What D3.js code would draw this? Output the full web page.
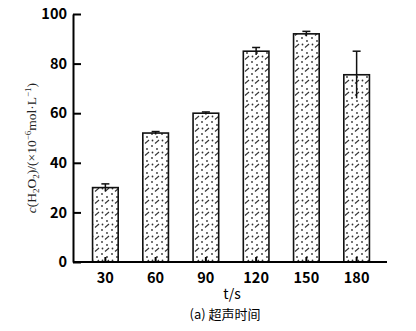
<!DOCTYPE html>
<html>
<head>
<meta charset="utf-8">
<script src="https://cdn.jsdelivr.net/npm/d3@7"></script>
<style>
  html, body { margin: 0; padding: 0; background: #fff; }
  svg { display: block; }
</style>
</head>
<body>
<svg id="chart" width="416" height="331"></svg>
<script>
// Sonication time (s) and H2O2 concentration (×10^-6 mol/L)
const times = ["30", "60", "90", "120", "150", "180"];
const conc = [30, 52, 60, 85, 92, 75.5];
const errs = [1.5, 0.6, 0.5, 1.5, 1, 9.5];
const yTicks = [0, 20, 40, 60, 80, 100];

const svg = d3.select("#chart");
const margin = { left: 73, right: 29, top: 14, bottom: 69 };
const W = 416, H = 331;

const x = d3.scaleBand()
  .domain(times)
  .range([margin.left + 7, W - margin.right - 5])
  .paddingInner(0.49)
  .paddingOuter(0.25);

const y = d3.scaleLinear()
  .domain([0, 100])
  .range([H - margin.bottom, margin.top]);

// Fill: stippled dots mixed with short diagonal dashes
const defs = svg.append("defs");
const pat = defs.append("pattern")
  .attr("id", "stipple")
  .attr("patternUnits", "userSpaceOnUse")
  .attr("width", 10).attr("height", 12);
pat.append("circle").attr("cx", 2).attr("cy", 2).attr("r", 0.9).attr("fill", "#333");
pat.append("circle").attr("cx", 7).attr("cy", 5).attr("r", 0.9).attr("fill", "#333");
pat.append("circle").attr("cx", 2.5).attr("cy", 8.5).attr("r", 0.9).attr("fill", "#333");
pat.append("line")
  .attr("x1", 5).attr("y1", 11.5).attr("x2", 9).attr("y2", 8)
  .attr("stroke", "#333").attr("stroke-width", 1.1);

const bars = svg.append("g");
bars.selectAll("rect")
  .data(times)
  .join("rect")
  .attr("x", d => x(d))
  .attr("y", (d, i) => y(conc[i]))
  .attr("width", x.bandwidth())
  .attr("height", (d, i) => y(0) - y(conc[i]))
  .attr("fill", "url(#stipple)")
  .attr("stroke", "#111")
  .attr("stroke-width", 1.6);

// Error bars with a cap on the upper end
const eb = svg.append("g").attr("stroke", "#111").attr("stroke-width", 1.5);
eb.selectAll("line.v")
  .data(times)
  .join("line")
  .attr("class", "v")
  .attr("x1", d => x(d) + x.bandwidth() / 2)
  .attr("x2", d => x(d) + x.bandwidth() / 2)
  .attr("y1", (d, i) => y(conc[i] - errs[i]))
  .attr("y2", (d, i) => y(conc[i] + errs[i]));
eb.selectAll("line.cap")
  .data(times)
  .join("line")
  .attr("class", "cap")
  .attr("x1", d => x(d) + x.bandwidth() / 2 - 4)
  .attr("x2", d => x(d) + x.bandwidth() / 2 + 4)
  .attr("y1", (d, i) => y(conc[i] + errs[i]))
  .attr("y2", (d, i) => y(conc[i] + errs[i]));

// Axes
const tickFont = "'Noto Sans CJK SC', 'Noto Sans', sans-serif";
const yAxis = svg.append("g")
  .attr("transform", `translate(${margin.left},0)`)
  .call(d3.axisLeft(y).tickValues(yTicks).tickSizeInner(-8).tickSizeOuter(0).tickPadding(6));
const xAxis = svg.append("g")
  .attr("transform", `translate(0,${H - margin.bottom})`)
  .call(d3.axisBottom(x).tickSizeInner(-5).tickSizeOuter(0).tickPadding(11));
xAxis.select(".domain").attr("d", `M${margin.left},0H${W - margin.right}`);

[xAxis, yAxis].forEach(a => {
  a.select(".domain").attr("stroke", "#000").attr("stroke-width", 2);
  a.selectAll(".tick line").attr("stroke", "#000").attr("stroke-width", 2);
  a.selectAll(".tick text")
    .attr("fill", "#000")
    .style("font-family", tickFont)
    .style("font-size", "14.5px")
    .style("font-weight", "600");
});

// Axis titles
svg.append("text")
  .attr("x", 232).attr("y", 299)
  .attr("text-anchor", "middle")
  .style("font-family", tickFont)
  .style("font-size", "14px")
  .text("t/s");
svg.append("text")
  .attr("x", 225).attr("y", 319)
  .attr("text-anchor", "middle")
  .style("font-family", tickFont)
  .style("font-size", "13px")
  .text("(a) 超声时间");

const yl = svg.append("text")
  .attr("transform", "translate(36,148) rotate(-90)")
  .attr("text-anchor", "middle")
  .style("font-family", "'Liberation Serif', 'DejaVu Serif', serif")
  .style("font-size", "13.5px")
  .attr("fill", "#222");
yl.append("tspan").style("font-style", "italic").text("c");
yl.append("tspan").text("(H");
yl.append("tspan").attr("dy", 3).style("font-size", "9px").text("2");
yl.append("tspan").attr("dy", -3).text("O");
yl.append("tspan").attr("dy", 3).style("font-size", "9px").text("2");
yl.append("tspan").attr("dy", -3).text(")/(×10");
yl.append("tspan").attr("dy", -5).style("font-size", "9px").text("−6");
yl.append("tspan").attr("dy", 5).text("mol·L");
yl.append("tspan").attr("dy", -5).style("font-size", "9px").text("−1");
yl.append("tspan").attr("dy", 5).text(")");
</script>
</body>
</html>
